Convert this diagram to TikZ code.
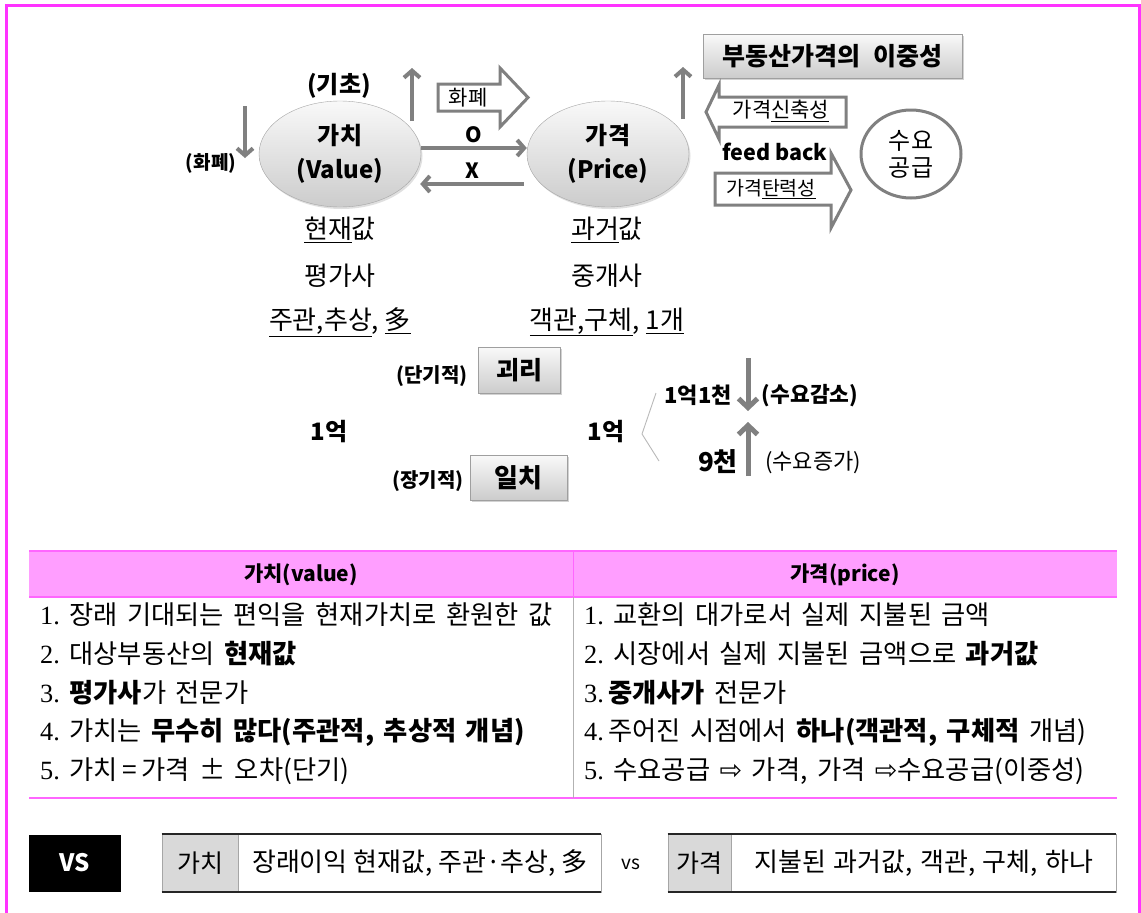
\documentclass[tikz,border=0pt]{standalone}
\usepackage{fontspec}
\setmainfont{Noto Sans CJK KR}
\newfontfamily\sernum{Liberation Serif}
\newfontfamily\dvs{DejaVu Sans}
\usetikzlibrary{arrows.meta,shadows,shapes.geometric,calc}
\definecolor{framec}{RGB}{255,51,255}
\definecolor{hdr}{RGB}{255,158,255}
\definecolor{hdrline}{RGB}{255,102,255}
\definecolor{garr}{RGB}{128,128,128}
\definecolor{cellgray}{RGB}{217,217,217}
\newcommand\fsz[2]{\fontsize{#1}{#2}\selectfont}
\newcommand\wsp[1]{\spaceskip=#1\relax\xspaceskip=#1\relax}
\begin{document}
\begin{tikzpicture}[x=1pt,y=-1pt,
  ellnode/.style={ellipse, draw=gray!70, top color=gray!5, bottom color=gray!40,
    drop shadow={shadow xshift=1.5pt,shadow yshift=-2pt,opacity=.25},
    minimum width=162pt, minimum height=106pt, inner sep=0pt, align=center,
    font=\bfseries\fsz{24}{34}},
  gbox/.style={draw=gray!75, top color=gray!5, bottom color=gray!40,
    drop shadow={shadow xshift=2pt,shadow yshift=-2pt,opacity=.35}, inner sep=0pt},
  garrow/.style={draw=garr, line width=4pt, -{Straight Barb[length=7pt,width=16pt]}},
  barrow/.style={draw=garr, line width=5pt, -{Straight Barb[length=9pt,width=19pt]}},
  blockarr/.style={draw=garr, line width=3pt, fill=white, line join=miter},
  lbl/.style={inner sep=0pt},
  row/.style={anchor=west, inner sep=0pt, font=\fsz{26.3}{30}},
  wide/.style={inner sep=0pt, font=\fsz{26}{30}},
  hd/.style={inner sep=0pt, font=\bfseries\fsz{21}{25}},
  cellbox/.style={draw=gray!70, line width=0.8pt, minimum height=58pt, inner sep=0pt},
  graycell/.style={fill=cellgray, draw=gray!70, line width=0.8pt, minimum height=58pt, inner sep=0pt, anchor=west, font=\fsz{25}{29}}
]
\useasboundingbox (0,0) rectangle (1141,913);
\fill[white] (0,0) rectangle (1141,913);
% outer frame
\draw[framec, line width=2.4pt] (6.5,914) -- (6.5,5.5) -- (1139.5,5.5) -- (1139.5,914);

% ---------- upper diagram ----------
\node[ellnode] (v) at (340,154) {가치\\(Value)};
\node[ellnode] (p) at (608,154) {가격\\(Price)};

\node[lbl, font=\bfseries\fsz{24}{28}] (kicho) at (339,86) {(기초)};
\node[lbl, font=\bfseries\fsz{19}{22}] (hwl) at (211,163) {(화폐)};
\coordinate (d1a) at (245,106);
\coordinate (d1b) at (245,158);
\draw[garrow] (d1a) -- (d1b);
\coordinate (u1a) at (412,121);
\coordinate (u1b) at (412,68);
\draw[garrow] (u1a) -- (u1b);

% money block arrow
\draw[blockarr] (438,84) -- (500,84) -- (500,68) -- (528,97.5) -- (500,127) -- (500,111) -- (438,111) -- cycle;
\node[lbl, font=\fsz{21}{24}] (hwa) at (468,97.5) {화폐};

% O / X arrows
\draw[garrow] ([yshift=6pt]v.east) -- ([yshift=6pt]p.west) node[midway, above=3pt, font=\bfseries\fsz{21}{24}, inner sep=0pt] (olbl) {O};
\draw[garrow] ([yshift=-30pt,xshift=-3pt]p.west) -- ([yshift=-30pt,xshift=-1pt]v.east) node[midway, above=4pt, font=\bfseries\fsz{21}{24}, inner sep=0pt] (xlbl) {X};

% up arrow from price
\coordinate (u2a) at (683,119);
\coordinate (u2b) at (683,67);
\draw[garrow] (u2a) -- (u2b);

\node[gbox, minimum width=259pt, minimum height=44pt, font=\bfseries\fsz{25}{29}] (dual) at (832.5,56) {부동산가격의\hspace{0.5em}이중성};

% feedback block arrows
\draw[blockarr] (706,112) -- (719,85) -- (719,97) -- (846,97) -- (846,127) -- (719,127) -- (719,139) -- cycle;
\node[lbl, font=\fsz{21}{24}] (sinch) at (781,111) {가격\underline{신축성}};
\node[lbl, font=\bfseries\fsz{21.5}{25}] (fb) at (775,152) {feed back};
\draw[blockarr] (715,173) -- (831,173) -- (831,153) -- (851,190) -- (831,228) -- (831,205) -- (715,205) -- cycle;
\node[lbl, font=\fsz{19.5}{23}] (tanr) at (771,189) {가격\underline{탄력성}};

\node[ellipse, draw=garr, line width=3pt, minimum width=100pt, minimum height=88pt, inner sep=0pt, align=center, font=\fsz{24}{27}] (sd) at (911,154) {수요\\공급};

% texts under ellipses
\node[lbl, font=\fsz{26}{30}] (v1) at (340,230) {\underline{현재}값};
\node[lbl, font=\fsz{26}{30}] (v2) at (340,276) {평가사};
\node[lbl, font=\fsz{26}{30}] (v3) at (340,322) {\underline{주관,추상}, \underline{多}};
\node[lbl, font=\fsz{26}{30}] (p1) at (607,230) {\underline{과거}값};
\node[lbl, font=\fsz{26}{30}] (p2) at (607,276) {중개사};
\node[lbl, font=\fsz{26}{30}] (p3) at (607,322) {\underline{객관,구체}, \underline{1개}};

% ---------- lower diagram ----------
\node[lbl, font=\bfseries\fsz{20}{24}] (dang) at (432,376) {(단기적)};
\node[gbox, minimum width=82pt, minimum height=46pt, font=\bfseries\fsz{25}{29}] (gr) at (519,370) {괴리};
\node[lbl, font=\bfseries\fsz{20}{24}] (jang) at (428,481) {(장기적)};
\node[gbox, minimum width=97pt, minimum height=45pt, font=\bfseries\fsz{26}{30}] (ilc) at (518.5,477.5) {일치};
\node[lbl, font=\bfseries\fsz{24}{28}] (eok1) at (329,432) {1억};
\node[lbl, font=\bfseries\fsz{24}{28}] (eok2) at (606,432) {1억};
\draw[gray!55, line width=0.9pt] (656,393) -- (642,434) -- (659,461);
\node[lbl, font=\bfseries\fsz{22}{26}] (e11) at (698,395) {1억1천};
\node[lbl, font=\bfseries\fsz{21.5}{25}] (dec) at (810,396) {(수요감소)};
\node[lbl, font=\bfseries\fsz{26}{30}] (c9) at (718,462) {9천};
\node[lbl, font=\fsz{22}{26}] (inc) at (813,463) {(수요증가)};
\coordinate (d2a) at (748,358);
\coordinate (d2b) at (748,411);
\draw[barrow] (d2a) -- (d2b);
\coordinate (u3a) at (748,476);
\coordinate (u3b) at (748,422);
\draw[barrow] (u3a) -- (u3b);

% ---------- table ----------
\fill[hdr] (29,551) rectangle (1117,597);
\draw[hdrline, line width=1.4pt] (29,551) -- (1117,551);
\draw[hdrline, line width=1.4pt] (29,597) -- (1117,597);
\draw[hdrline, line width=1.4pt] (29,798) -- (1117,798);
\draw[hdrline, line width=0.8pt] (573,551) -- (573,597);
\draw[gray!60, line width=0.8pt] (573,597) -- (573,798);
\node[hd] (h1) at (301,575) {가치(value)};
\node[hd] (h2) at (845,575) {가격(price)};

\node[row] (l1) at (40,615) {\wsp{9.5pt}{\sernum 1.} 장래 기대되는 편익을 현재가치로 환원한 값};
\node[row] (l2) at (40,654) {\wsp{9.5pt}{\sernum 2.} 대상부동산의 \textbf{현재값}};
\node[row] (l3) at (40,693) {\wsp{9.5pt}{\sernum 3.} \textbf{평가사}가 전문가};
\node[row] (l4) at (40,732) {\wsp{9.5pt}{\sernum 4.} 가치는 \textbf{무수히 많다(주관적, 추상적 개념)}};
\node[row] (l5) at (40,771) {\wsp{9.5pt}{\sernum 5.} 가치\,=\,가격 ± 오차(단기)};

\node[row] (r1) at (584,615) {\wsp{9.5pt}{\sernum 1.} 교환의 대가로서 실제 지불된 금액};
\node[row] (r2) at (584,654) {\wsp{9.5pt}{\sernum 2.} 시장에서 실제 지불된 금액으로 \textbf{과거값}};
\node[row] (r3) at (584,693) {\wsp{9.5pt}{\sernum 3.}\,\textbf{중개사가} 전문가};
\node[row] (r4) at (584,732) {\wsp{9.5pt}{\sernum 4.}\,주어진 시점에서 \textbf{하나(객관적, 구체적} 개념)};
\node[row] (r5) at (584,771) {\wsp{9.5pt}{\sernum 5.} 수요공급 {\dvs\fsz{27}{29}⇨} 가격, 가격 {\dvs\fsz{27}{29}⇨}수요공급(이중성)};

% ---------- bottom comparison ----------
\node[fill=black, minimum width=92pt, minimum height=57pt, inner sep=0pt, text=white, font=\bfseries\fsz{24}{28}] (vs) at (75,863) {VS};

\node[cellbox, minimum width=439pt] (b1) at (381.5,863) {};
\node[graycell, minimum width=76pt] (b1g) at (b1.west) {가치};
\node[wide] (b1t) at ($(b1g.east)!0.5!(b1.east)$) {장래이익 현재값, 주관·추상, 多};
\draw[black!85, line width=2pt] (b1.north west) -- (b1.north east);
\draw[black!85, line width=2pt] (b1.south west) -- (b1.south east);

\node[lbl, font=\fsz{19}{22}] (vs2) at (631,864) {vs};

\node[cellbox, minimum width=448pt] (b2) at (892,863) {};
\node[graycell, minimum width=63pt] (b2g) at (b2.west) {가격};
\node[wide] (b2t) at ($(b2g.east)!0.5!(b2.east)$) {\wsp{7.5pt}지불된 과거값, 객관, 구체, 하나};
\draw[black!85, line width=2pt] (b2.north west) -- (b2.north east);
\draw[black!85, line width=2pt] (b2.south west) -- (b2.south east);
\end{tikzpicture}
\end{document}
